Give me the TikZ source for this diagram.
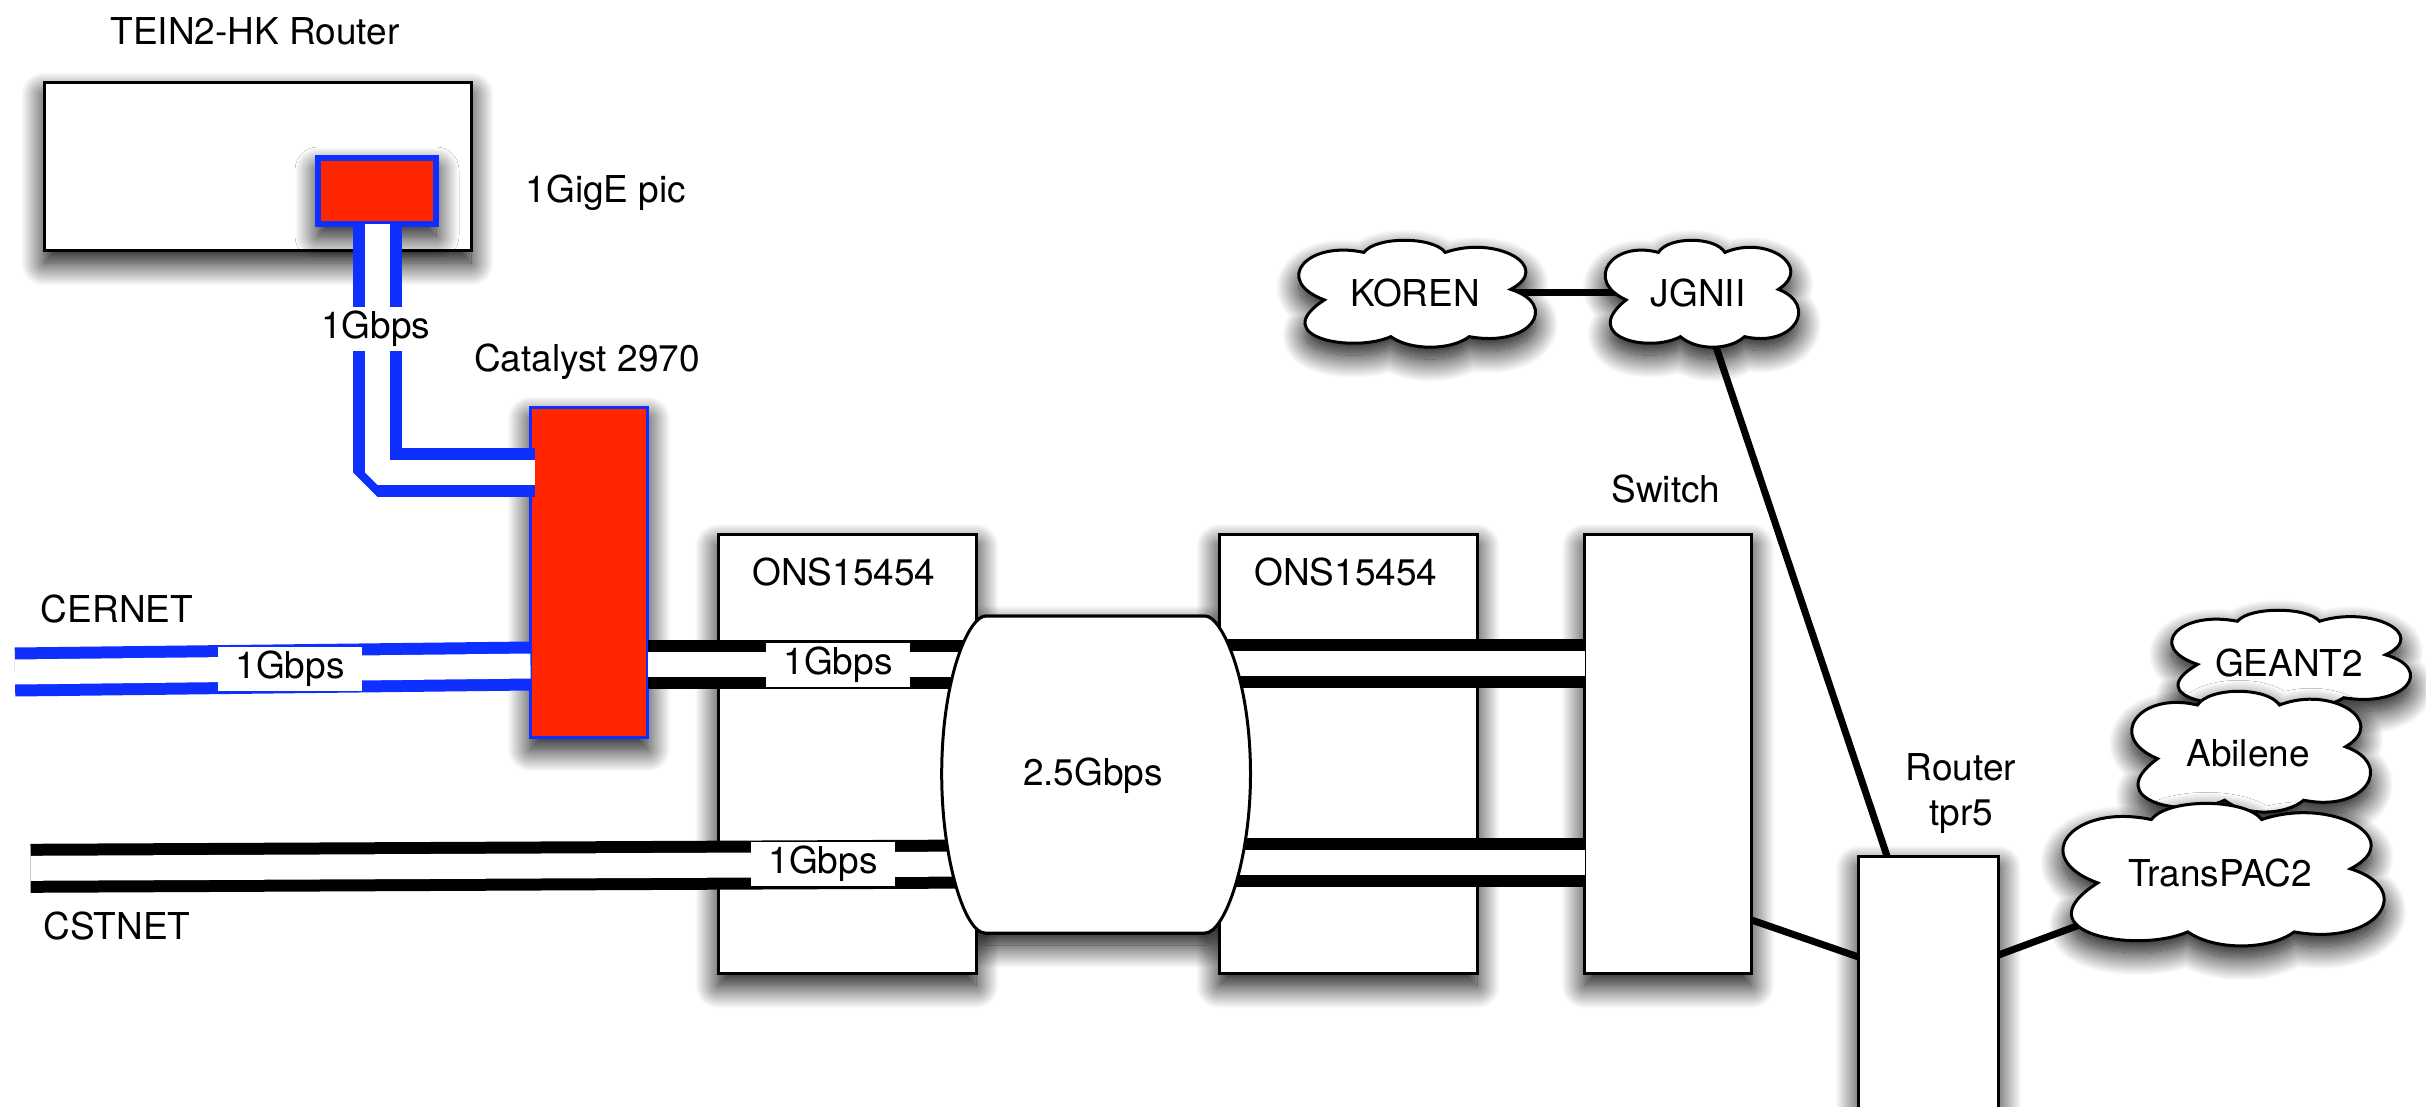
\documentclass[tikz,border=0pt]{standalone}
\usepackage{fontspec}
\setmainfont{TeX Gyre Heros}
\usetikzlibrary{shadows.blur}
\pgfdeclarelayer{back}
\pgfsetlayers{back,main}
\tikzset{
    softshadow/.style={blur shadow={shadow xshift=0pt, shadow yshift=-12pt, shadow blur radius=23pt, shadow blur steps=30, shadow opacity=100}},
    netbox/.style={draw, line width=3pt, fill=white, outer sep=0pt, inner sep=0pt, softshadow},
    redbox/.style={draw={rgb,255:red,15;green,47;blue,255}, fill={rgb,255:red,255;green,38;blue,0}, outer sep=0pt, inner sep=0pt, softshadow},
    bluepair/.style={draw={rgb,255:red,15;green,47;blue,255}, line width=12pt, double=white, double distance=25pt, line join=bevel},
    blackpair/.style={draw=black, line width=12pt, double=white, double distance=25pt},
    uplink/.style={draw=black, line width=7pt},
    ratebox/.style={fill=white, inner sep=0pt, minimum width=144pt, minimum height=44pt},
    cloudedge/.style={draw, line width=3pt, fill=white, softshadow},
    every node/.append style={font=\fontsize{37}{45}\selectfont, align=center}
}
\newcommand{\netcloud}[3]{
    \path[cloudedge, shift={(#1)}, x=#2pt, y=#3pt] (-.797,-.11)
        .. controls (-1.25,.25) and (-.95,1.0) .. (-.453,.77)
        .. controls (-.35,1.07) and (.15,1.07) .. (.254,.77)
        .. controls (.7,1.1) and (1.2,.5) .. (.823,.086)
        .. controls (1.25,-.2) and (1.0,-1.0) .. (.463,-.79)
        .. controls (.3,-1.05) and (-.05,-1.05) .. (-.219,-.79)
        .. controls (-.55,-1.1) and (-1.3,-.8) .. (-.797,-.11) -- cycle;
}
\newcommand{\ringpath}{(986,616) -- (1205,616) .. controls (1222,616) and (1250.5,680) .. (1250.5,774)
    .. controls (1250.5,860) and (1225,933) .. (1205,933) -- (985,933)
    .. controls (965,933) and (941.7,860) .. (941.7,774)
    .. controls (941.7,680) and (968,616) .. (986,616) -- cycle}

\begin{document}
\begin{tikzpicture}[x=1pt, y=-1pt]
        \useasboundingbox (0,0) rectangle (2426,1107);
        % texts that the links refer to
        \node (koren) at (1415,293) {KOREN};
        \node (jgnii) at (1698,293) {JGNII};
        \node (geant) at (2289,663) {GEANT2};
        \node (abilene) at (2248,753) {Abilene};
        \node (transpac) at (2220,873) {TransPAC2};
        \node (core) at (1093,776) {2.5Gbps};
        \begin{pgfonlayer}{back}
            \node[netbox, minimum width=427pt, minimum height=168pt] (tein) at (257.5,167) {};
            \node[redbox, line width=6pt, minimum width=118pt, minimum height=66pt] (gigepic) at (377,191) {};
            \node[redbox, line width=3pt, minimum width=117pt, minimum height=330pt] (catalyst) at (589,572) {};
            % the ring throws its shadow below the boxes
            \path[cloudedge] \ringpath;
            \node[netbox, minimum width=258pt, minimum height=439pt] (onsa) at (847,754) {};
            \node[netbox, minimum width=258pt, minimum height=439pt] (onsb) at (1348,754) {};
            \node[netbox, minimum width=167pt, minimum height=439pt] (switch) at (1668,754) {};
            \node[netbox, minimum width=140pt, minimum height=344pt] (tprbox) at (1928.5,1028) {};
            % links
            \draw[bluepair] (gigepic.south) |- ([xshift=4pt]catalyst.west |- 0,472.7);
            \coordinate (cernet) at (15,672);
            \coordinate (cstnet) at (30.6,868.3);
            \draw[bluepair] (cernet) -- (catalyst.west |- 0,666);
            \draw[blackpair] (catalyst.east |- 0,664.5) -- (core |- 0,664.5);
            \draw[blackpair] (cstnet) -- (core |- 0,863.5);
            \draw[blackpair] (core |- 0,663.2) -- (switch.west |- 0,663.2);
            \draw[blackpair] (core |- 0,862.7) -- (switch.west |- 0,862.7);
            \draw[uplink] (koren) -- (jgnii);
            \draw[uplink] (jgnii) -- (tprbox.north -| 1887,0);
            \draw[uplink] (switch.east |- 0,920) -- (tprbox.west |- 0,957);
            \draw[uplink] (tprbox.east |- 0,955) -- (transpac);
            \draw[line width=3pt, fill=white] \ringpath;
            % clouds
            \netcloud{1416,294}{115}{54}
            \netcloud{1701,294}{94}{54}
            \netcloud{2290,659}{116}{49}
            \netcloud{2250,752}{116}{61}
            \netcloud{2222,875}{156}{72}
        \end{pgfonlayer}
        % other labels
        \node (teinlabel) at (255,31) {TEIN2-HK Router};
        \node (piclabel) at (606,193) {1GigE pic};
        \node (catlabel) at (587,362) {Catalyst 2970};
        \node (cernetlabel) at (117,609) {CERNET};
        \node (cstnetlabel) at (117,926) {CSTNET};
        \node (onsalabel) at (844,572) {ONS15454};
        \node (onsblabel) at (1346,572) {ONS15454};
        \node (switchlabel) at (1666,489) {Switch};
        \node (tprlabel) at (1961,794) {Router\\tpr5};
        \node[ratebox] (ratetein) at (375.6,329) {1Gbps};
        \node[ratebox] (ratecernet) at (290,669) {\raisebox{-2pt}{1Gbps}};
        \node[ratebox] (rateonsa) at (838,665) {\raisebox{-2pt}{1Gbps}};
        \node[ratebox] (ratecstnet) at (823,864) {\raisebox{-2pt}{1Gbps}};
    \end{tikzpicture}
\end{document}
